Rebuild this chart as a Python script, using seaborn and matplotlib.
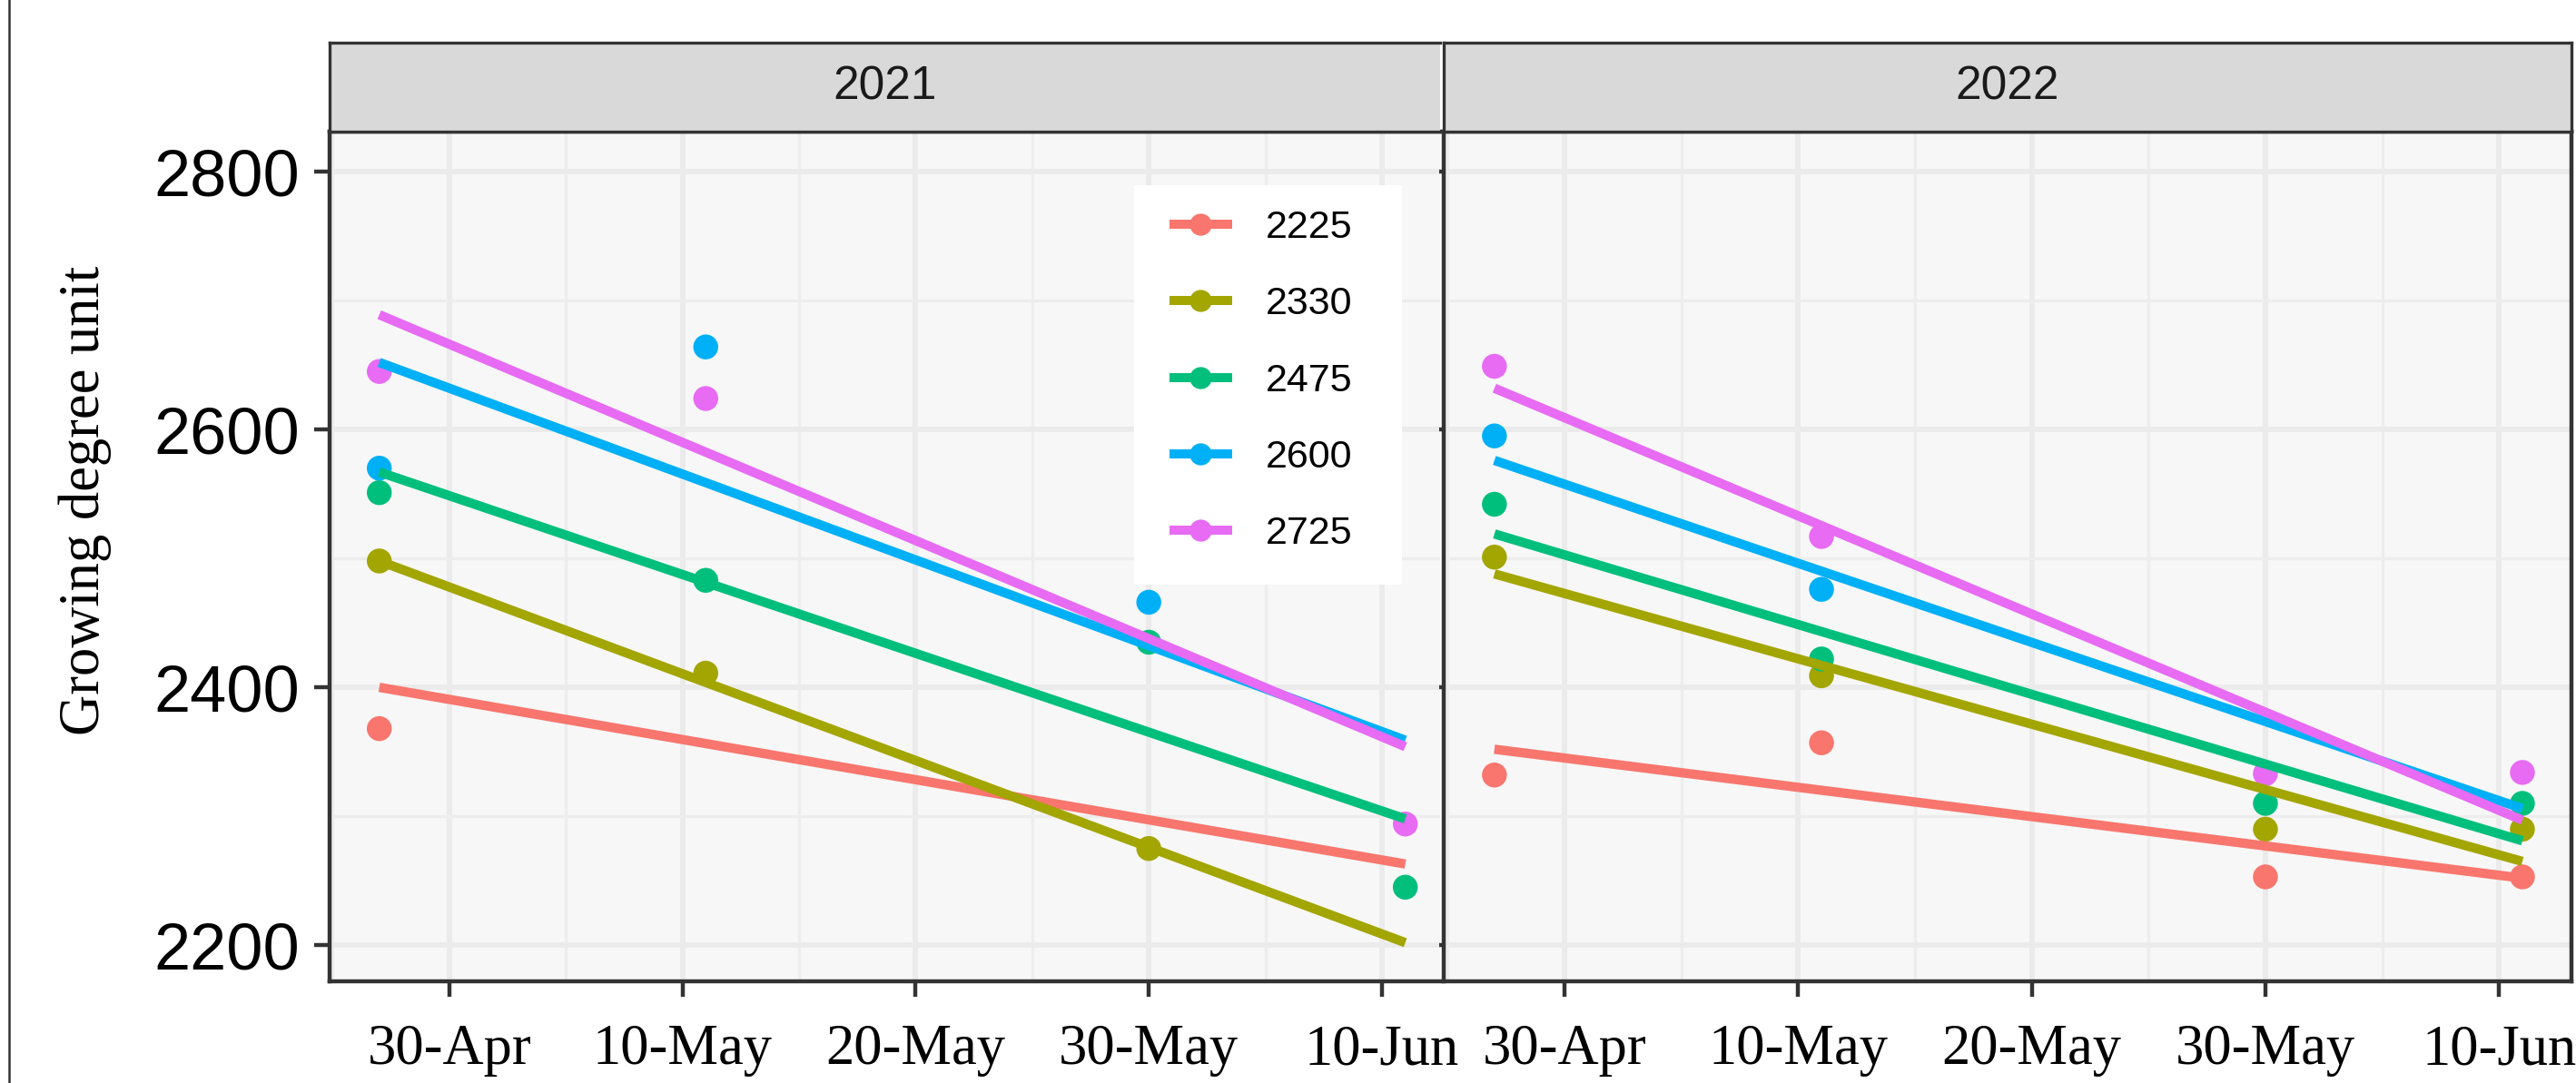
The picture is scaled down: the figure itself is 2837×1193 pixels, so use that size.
import numpy as np
import pandas as pd
import matplotlib
matplotlib.use("Agg")
import matplotlib.pyplot as plt
from matplotlib.lines import Line2D
from matplotlib.patches import Rectangle
from matplotlib.font_manager import FontProperties
import seaborn as sns

# ---------------------------------------------------------------- data
years = ["2021", "2022"]
gdu_levels = ["2225", "2330", "2475", "2600", "2725"]
level_colors = ["#F8766D", "#A3A500", "#00BF7D", "#00B0F6", "#E76BF3"]

# sampling dates as day of year (27-Apr, 11-May, 30-May, 10-Jun)
sample_days = [117, 131, 150, 161]
tick_days = [120, 130, 140, 150, 160]
tick_labels = ["30-Apr", "10-May", "20-May", "30-May", "10-Jun"]

nan = np.nan
# accumulated growing degree units observed at each sampling date
obs_2021 = {
    "2225": [2368, nan, nan, nan],
    "2330": [2498, 2411, 2275, nan],
    "2475": [2551, 2483, 2435, 2245],
    "2600": [2570, 2664, 2466, nan],
    "2725": [2645, 2624, nan, 2294],
}
obs_2022 = {
    "2225": [2332, 2357, 2253, 2253],
    "2330": [2501, 2409, 2290, 2290],
    "2475": [2542, 2422, 2310, 2310],
    "2600": [2595, 2476, nan, nan],
    "2725": [2649, 2517, 2333, 2334],
}

# linear trend per level: fitted value at first and last sampling date
trend_days = [117, 161]
trend_2021 = {
    "2225": [2400, 2263],
    "2330": [2498, 2202],
    "2475": [2567, 2298],
    "2600": [2652, 2359],
    "2725": [2689, 2354],
}
trend_2022 = {
    "2225": [2352, 2252],
    "2330": [2488, 2265],
    "2475": [2519, 2281],
    "2600": [2576, 2306],
    "2725": [2632, 2297],
}


def to_long(table, days, year):
    rows = []
    for level, values in table.items():
        for d, v in zip(days, values):
            if not np.isnan(v):
                rows.append({"year": year, "level": level, "day": d, "gdu": v})
    return pd.DataFrame(rows)


points = pd.concat([to_long(obs_2021, sample_days, "2021"),
                    to_long(obs_2022, sample_days, "2022")])
trends = pd.concat([to_long(trend_2021, trend_days, "2021"),
                    to_long(trend_2022, trend_days, "2022")])

# ---------------------------------------------------------------- figure
W, H = 2837, 1193
fig = plt.figure(figsize=(W / 100, H / 100), dpi=100)
fig.patch.set_facecolor("white")

sans = "Liberation Sans"
serif = "Liberation Serif"
frame_col = "#333333"

panel_top, panel_bottom = 145, 1081
strip_top = 47
panels = {"2021": (362.5, 1585.7), "2022": (1590, 2832)}
xlims = {"2021": (114.85, 162.48), "2022": (114.83, 163.1)}

pal = dict(zip(gdu_levels, level_colors))

for i, yr in enumerate(years):
    x0, x1 = panels[yr]
    ax = fig.add_axes([x0 / W, 1 - panel_bottom / H, (x1 - x0) / W,
                       (panel_bottom - panel_top) / H])
    ax.set_facecolor("#F7F7F7")
    ax.set_axisbelow(True)

    sns.scatterplot(data=points[points.year == yr], x="day", y="gdu",
                    hue="level", hue_order=gdu_levels, palette=pal,
                    s=390, linewidth=0, legend=False, ax=ax, zorder=2)
    sns.lineplot(data=trends[trends.year == yr], x="day", y="gdu",
                 hue="level", hue_order=gdu_levels, palette=pal,
                 linewidth=7.4, legend=False, ax=ax, estimator=None,
                 solid_capstyle="butt", zorder=3)

    ax.set_xlim(*xlims[yr])
    ax.set_ylim(2172, 2831)
    ax.set_xticks(tick_days)
    ax.set_xticks([115, 125, 135, 145, 155], minor=True)
    ax.set_yticks([2200, 2400, 2600, 2800])
    ax.set_yticks([2300, 2500, 2700], minor=True)
    ax.grid(which="major", color="#EBEBEB", linewidth=4.3)
    ax.grid(which="minor", color="#EDEDED", linewidth=2.4)
    ax.set_xlabel("")
    ax.set_ylabel("")

    ax.set_xticklabels(tick_labels, fontfamily=serif, fontsize=45)
    ax.tick_params(axis="x", which="major", length=12, width=3.2,
                   color=frame_col, pad=22, labelcolor="black")
    ax.tick_params(which="minor", length=0)
    if i == 0:
        ax.set_yticklabels([str(v) for v in [2200, 2400, 2600, 2800]],
                           fontfamily=sans, fontsize=52)
        ax.tick_params(axis="y", which="major", length=12, width=3.2,
                       color=frame_col, pad=11, labelcolor="black")
    else:
        ax.set_yticklabels([])
        ax.tick_params(axis="y", which="major", length=3.5, width=3.2,
                       color=frame_col)
    for sp in ax.spines.values():
        sp.set_color(frame_col)
        sp.set_linewidth(3.2)
    if i == 0:
        ax.spines["right"].set_visible(False)

    # facet strip
    sax = fig.add_axes([x0 / W, 1 - panel_top / H, (x1 - x0) / W,
                        (panel_top - strip_top) / H])
    sax.set_facecolor("#D9D9D9")
    sax.set_xticks([])
    sax.set_yticks([])
    for sp in sax.spines.values():
        sp.set_color(frame_col)
        sp.set_linewidth(2.4)
    if i == 0:
        sax.spines["right"].set_visible(False)
    sax.text(0.5, 0.5, yr, transform=sax.transAxes, ha="center",
             va="center", fontsize=37, color="#1A1A1A", fontfamily=sans)

# y axis title
fig.text(94 / W, 1 - 551 / H, "Growing degree unit", rotation=90,
         ha="center", va="center", fontsize=45, fontfamily=serif,
         color="black")

# rule at the left edge
fig.add_artist(Line2D([10 / W, 10 / W], [0, 1], transform=fig.transFigure,
                      color=frame_col, linewidth=1.8))

# legend on a white box inside the first panel
fig.add_artist(Rectangle((1249 / W, 1 - 644 / H), (1544 - 1249) / W,
                         (644 - 204) / H, transform=fig.transFigure,
                         facecolor="white", edgecolor="none", zorder=4))
handles = [Line2D([0], [0], color=c, linewidth=7.2, marker="o",
                  markersize=16.5, solid_capstyle="butt")
           for c in level_colors]
leg = fig.legend(handles, gdu_levels, loc="upper left",
                 bbox_to_anchor=(1288 / W, 1 - 231 / H),
                 bbox_transform=fig.transFigure, frameon=False,
                 borderpad=0, borderaxespad=0, handlelength=1.6,
                 handletextpad=0.87, labelspacing=1.03,
                 prop=FontProperties(family=sans, size=31))
leg.set_zorder(6)

fig.savefig("out.png", dpi=100, facecolor="white")
